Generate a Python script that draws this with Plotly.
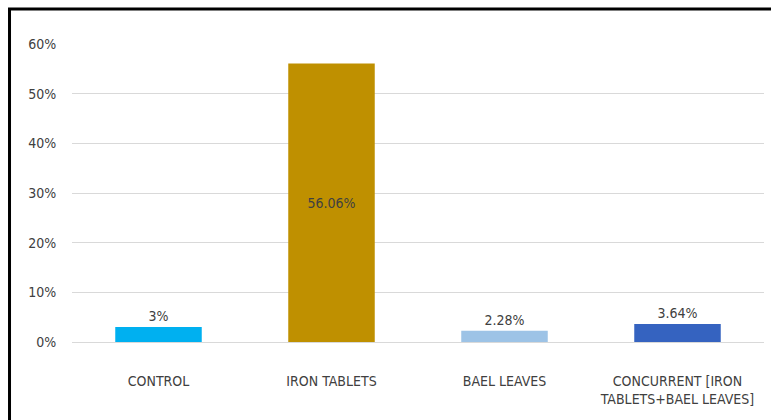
import plotly.graph_objects as go

categories = ["CONTROL", "IRON TABLETS", "BAEL LEAVES", "CONCURRENT [IRON<br>TABLETS+BAEL LEAVES]"]
values = [3, 56.06, 2.28, 3.64]
bar_colors = ["#00B0F0", "#BF9000", "#9DC3E6", "#3563C0"]
text_positions = ["outside", "inside", "outside", "outside"]
y_ticks = [0, 10, 20, 30, 40, 50, 60]
y_tick_labels = ["0%", "10%", "20%", "30%", "40%", "50%", "60%"]

FONT = "DejaVu Sans Condensed, Liberation Sans Narrow, sans-serif"
TXT = "#404040"

fig = go.Figure(go.Bar(
    x=categories, y=values,
    marker=dict(color=bar_colors, line=dict(width=0)),
    width=0.5,
    text=[f"{v:g}%" for v in values],
    textposition=text_positions,
    insidetextanchor="middle",
    textfont=dict(family=FONT, size=14, color=TXT),
    insidetextfont=dict(family=FONT, size=14, color=TXT),
    outsidetextfont=dict(family=FONT, size=14, color=TXT),
    cliponaxis=False,
))

fig.update_layout(
    width=771, height=420,
    margin=dict(l=72, r=7, t=44, b=78),
    paper_bgcolor="white", plot_bgcolor="white",
    showlegend=False,
    font=dict(family=FONT, size=14, color=TXT),
    bargap=0.5,
    xaxis=dict(
        showgrid=False, showline=False, zeroline=False,
        tickfont=dict(family=FONT, size=14, color=TXT),
        ticks="outside", ticklen=26, tickcolor="rgba(0,0,0,0)",
    ),
    yaxis=dict(
        range=[0, 60], tickvals=y_ticks, ticktext=y_tick_labels,
        showgrid=True, gridcolor="#D9D9D9", gridwidth=1,
        zeroline=True, zerolinecolor="#D9D9D9", zerolinewidth=1,
        showline=False,
        tickfont=dict(family=FONT, size=14, color=TXT),
        ticks="outside", ticklen=12, tickcolor="rgba(0,0,0,0)",
    ),
    shapes=[dict(
        type="path", xref="paper", yref="paper",
        path="M -0.0903,-0.262 L -0.0903,1.1174 L 1.0101,1.1174",
        line=dict(color="black", width=3),
        layer="above",
    )],
)

fig.write_html("out.html")
